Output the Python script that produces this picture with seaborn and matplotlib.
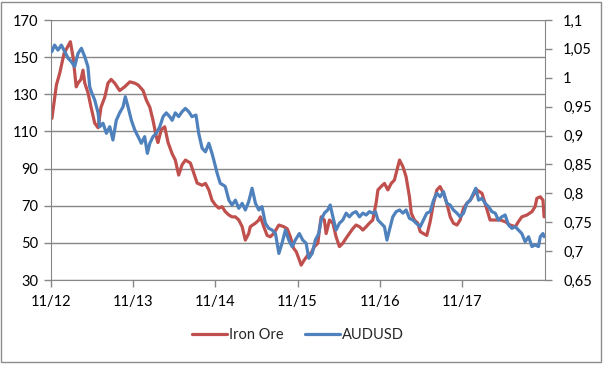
import matplotlib
matplotlib.use("Agg")
import matplotlib.pyplot as plt
import matplotlib.dates as mdates
from matplotlib.patches import Rectangle
from matplotlib.lines import Line2D
import pandas as pd
import seaborn as sns

# ---------------- data ----------------
iron_dates = [
    "2012-11-05", "2012-11-25", "2012-12-10", "2012-12-29", "2013-01-26", "2013-02-07", "2013-02-21",
    "2013-03-01", "2013-03-14", "2013-03-23", "2013-03-31", "2013-04-14", "2013-04-28", "2013-05-14",
    "2013-05-29", "2013-06-11", "2013-06-28", "2013-07-12", "2013-07-26", "2013-08-11", "2013-09-02",
    "2013-09-24", "2013-10-17", "2013-11-08", "2013-11-23", "2013-12-15", "2013-12-29", "2014-01-14",
    "2014-01-28", "2014-02-12", "2014-02-19", "2014-03-06", "2014-03-21", "2014-04-05", "2014-04-23",
    "2014-05-07", "2014-05-22", "2014-06-06", "2014-06-21", "2014-07-13", "2014-07-28", "2014-08-12",
    "2014-09-03", "2014-09-18", "2014-10-03", "2014-10-17", "2014-11-01", "2014-11-16", "2014-12-01",
    "2014-12-15", "2014-12-31", "2015-01-14", "2015-01-29", "2015-02-13", "2015-02-28", "2015-03-14",
    "2015-03-29", "2015-04-05", "2015-04-28", "2015-05-13", "2015-05-20", "2015-06-04", "2015-06-19",
    "2015-07-03", "2015-07-18", "2015-08-10", "2015-09-01", "2015-09-16", "2015-09-30", "2015-10-15",
    "2015-10-26", "2015-11-09", "2015-11-17", "2015-12-01", "2015-12-17", "2015-12-31", "2016-01-15",
    "2016-01-30", "2016-02-06", "2016-02-14", "2016-02-28", "2016-03-07", "2016-03-22", "2016-04-06",
    "2016-04-20", "2016-05-05", "2016-05-20", "2016-06-04", "2016-06-18", "2016-07-03", "2016-07-18",
    "2016-08-02", "2016-08-17", "2016-09-01", "2016-09-15", "2016-09-30", "2016-10-15", "2016-10-23",
    "2016-11-06", "2016-11-21", "2016-12-06", "2016-12-21", "2017-01-04", "2017-01-19", "2017-01-27",
    "2017-02-11", "2017-02-25", "2017-03-12", "2017-03-20", "2017-04-03", "2017-04-18", "2017-04-29",
    "2017-05-13", "2017-05-28", "2017-06-12", "2017-06-27", "2017-07-12", "2017-07-26", "2017-08-10",
    "2017-08-25", "2017-09-09", "2017-09-23", "2017-10-09", "2017-10-23", "2017-11-07", "2017-11-22",
    "2017-12-07", "2017-12-21", "2018-01-05", "2018-01-28", "2018-02-11", "2018-03-05", "2018-03-28",
    "2018-04-19", "2018-05-11", "2018-06-02", "2018-06-25", "2018-07-09", "2018-07-24", "2018-08-16",
    "2018-09-07", "2018-09-21", "2018-09-29", "2018-10-14", "2018-10-26", "2018-10-31",
]
iron_values = [
    117, 135, 141.5, 152, 158.3, 150, 134,
    136, 138, 143, 136, 131, 123, 114.5,
    112, 123, 128.5, 136, 138, 136, 132,
    134, 136.7, 136, 135, 132, 127, 123,
    116, 107, 104, 111, 112.5, 104, 98,
    94.6, 86.5, 92, 94.6, 93, 87.6, 82.2,
    81, 82, 78.5, 73, 70.4, 68.7, 69.5,
    66.8, 65, 64, 64, 62.3, 58.7, 51.5,
    55, 58.7, 60.6, 62.3, 64, 58.7, 54,
    53.3, 55, 59.6, 58.7, 57.6, 53.3, 47,
    45.3, 40.8, 38, 40.8, 43.5, 44.5, 48,
    49.8, 56.9, 64, 62.3, 55, 62.3, 60.6,
    53.3, 48, 49.8, 52.6, 55, 57.6, 59.6,
    58.7, 56.9, 58.7, 60.6, 62.3, 71.5, 78.5,
    80.3, 82, 78.5, 82, 83.8, 91, 94.6,
    91, 85.6, 74.8, 66, 62.3, 60.6, 56,
    55, 54, 61.4, 71.5, 78.5, 80.3, 76.7,
    71.3, 64, 60.6, 59.6, 62.3, 68.6, 71.3,
    73, 75.8, 78.5, 76.7, 71.3, 62.3, 62.3,
    62.3, 61.4, 59.6, 58.7, 61.4, 64, 65,
    66.8, 69.5, 74, 74.8, 73, 64,
]

aud_dates = [
    "2012-11-05", "2012-11-17", "2012-12-02", "2012-12-17", "2013-01-01", "2013-01-16", "2013-01-30",
    "2013-02-14", "2013-03-01", "2013-03-16", "2013-03-31", "2013-04-14", "2013-04-22", "2013-04-29",
    "2013-05-14", "2013-05-29", "2013-06-05", "2013-06-20", "2013-07-05", "2013-07-20", "2013-08-03",
    "2013-08-18", "2013-09-02", "2013-09-17", "2013-09-27", "2013-10-09", "2013-10-24", "2013-11-08",
    "2013-11-23", "2013-12-07", "2013-12-22", "2014-01-03", "2014-01-14", "2014-01-28", "2014-02-12",
    "2014-02-27", "2014-03-14", "2014-03-28", "2014-04-12", "2014-04-23", "2014-05-07", "2014-05-22",
    "2014-06-06", "2014-06-21", "2014-07-06", "2014-07-20", "2014-08-07", "2014-08-19", "2014-09-03",
    "2014-09-18", "2014-10-03", "2014-10-17", "2014-10-25", "2014-11-09", "2014-11-23", "2014-12-08",
    "2014-12-15", "2014-12-31", "2015-01-14", "2015-01-29", "2015-02-13", "2015-02-28", "2015-03-14",
    "2015-03-29", "2015-04-13", "2015-04-28", "2015-05-13", "2015-05-27", "2015-06-11", "2015-06-26",
    "2015-07-11", "2015-07-26", "2015-08-10", "2015-08-24", "2015-09-08", "2015-09-23", "2015-10-08",
    "2015-10-22", "2015-11-09", "2015-11-24", "2015-12-09", "2015-12-21", "2016-01-05", "2016-01-19",
    "2016-02-03", "2016-02-14", "2016-02-28", "2016-03-14", "2016-03-25", "2016-04-06", "2016-04-20",
    "2016-05-05", "2016-05-20", "2016-06-04", "2016-06-18", "2016-07-03", "2016-07-18", "2016-08-02",
    "2016-08-17", "2016-09-01", "2016-09-15", "2016-09-30", "2016-10-12", "2016-10-23", "2016-11-06",
    "2016-11-21", "2016-12-02", "2016-12-13", "2016-12-28", "2017-01-12", "2017-01-27", "2017-02-11",
    "2017-02-25", "2017-03-12", "2017-03-27", "2017-04-11", "2017-04-29", "2017-05-13", "2017-05-28",
    "2017-06-12", "2017-06-27", "2017-07-12", "2017-07-26", "2017-08-10", "2017-08-25", "2017-09-09",
    "2017-09-23", "2017-10-09", "2017-10-23", "2017-11-07", "2017-11-22", "2017-12-07", "2017-12-21",
    "2018-01-01", "2018-01-13", "2018-01-28", "2018-02-11", "2018-02-26", "2018-03-13", "2018-03-28",
    "2018-04-11", "2018-04-26", "2018-05-11", "2018-05-26", "2018-06-10", "2018-06-25", "2018-07-09",
    "2018-07-24", "2018-08-08", "2018-08-23", "2018-09-07", "2018-09-21", "2018-10-06", "2018-10-14",
    "2018-10-26", "2018-10-31",
]
aud_values = [
    1.0454, 1.0566, 1.0479, 1.0566, 1.0454, 1.0338, 1.0280,
    1.0193, 1.0421, 1.0511, 1.0363, 1.0193, 0.9843, 0.9759,
    0.9618, 0.9393, 0.9152, 0.9213, 0.9039, 0.9152, 0.8923,
    0.9264, 0.9393, 0.9499, 0.9672, 0.9499, 0.9264, 0.9097,
    0.8981, 0.8866, 0.8981, 0.8692, 0.8866, 0.8981, 0.9039,
    0.9152, 0.9328, 0.9393, 0.9328, 0.9264, 0.9393, 0.9328,
    0.9412, 0.9470, 0.9412, 0.9328, 0.9354, 0.9039, 0.8782,
    0.8718, 0.8866, 0.8692, 0.8576, 0.8345, 0.8171, 0.8139,
    0.8117, 0.7882, 0.7798, 0.7882, 0.7741, 0.7827, 0.7712,
    0.7856, 0.8088, 0.7827, 0.7712, 0.7770, 0.7483, 0.7394,
    0.7365, 0.7304, 0.6960, 0.7136, 0.7365, 0.7191, 0.7075,
    0.7191, 0.7304, 0.7191, 0.7136, 0.6876, 0.6960, 0.7191,
    0.7304, 0.7538, 0.7657, 0.7712, 0.7798, 0.7593, 0.7365,
    0.7483, 0.7538, 0.7657, 0.7593, 0.7657, 0.7683, 0.7593,
    0.7657, 0.7625, 0.7683, 0.7657, 0.7683, 0.7538, 0.7483,
    0.7422, 0.7191, 0.7365, 0.7593, 0.7683, 0.7712, 0.7657,
    0.7712, 0.7567, 0.7538, 0.7483, 0.7422, 0.7538, 0.7657,
    0.7683, 0.7882, 0.8001, 0.7940, 0.8030, 0.7827, 0.7798,
    0.7712, 0.7657, 0.7593, 0.7657, 0.7827, 0.7882, 0.8001,
    0.8088, 0.7882, 0.7914, 0.7827, 0.7770, 0.7683, 0.7657,
    0.7538, 0.7593, 0.7625, 0.7451, 0.7394, 0.7422, 0.7365,
    0.7304, 0.7162, 0.7249, 0.7079, 0.7107, 0.7079, 0.7249,
    0.7304, 0.7249,
]

series_names = ["Iron Ore", "AUDUSD"]
x_tick_labels = ["11/12", "11/13", "11/14", "11/15", "11/16", "11/17"]
x_tick_dates = ["2012-11-01", "2013-11-01", "2014-11-01", "2015-11-01", "2016-11-01", "2017-11-01"]
left_ticks = [30, 50, 70, 90, 110, 130, 150, 170]
right_ticks = [0.65, 0.70, 0.75, 0.80, 0.85, 0.90, 0.95, 1.00, 1.05, 1.10]
right_labels = ["0,65", "0,7", "0,75", "0,8", "0,85", "0,9", "0,95", "1", "1,05", "1,1"]

iron_df = pd.DataFrame({"date": pd.to_datetime(iron_dates), "value": iron_values})
aud_df = pd.DataFrame({"date": pd.to_datetime(aud_dates), "value": aud_values})

# ---------------- style ----------------
sns.set_style("white")
plt.rcParams["font.family"] = ["Lato", "DejaVu Sans"]

RED = "#C0504D"
BLUE = "#4F81BD"
GRID = "#878787"
TXT = "#000000"

fig = plt.figure(figsize=(6.05, 3.67), dpi=100)
ax = fig.add_axes([51 / 605, 1 - 280 / 367, (545 - 51) / 605, 260 / 367])
ax2 = ax.twinx()

sns.lineplot(data=iron_df, x="date", y="value", ax=ax, color=RED, linewidth=2.3,
             label=series_names[0], legend=False)
sns.lineplot(data=aud_df, x="date", y="value", ax=ax2, color=BLUE, linewidth=2.3,
             label=series_names[1], legend=False)

ax.set_xlim(pd.Timestamp("2012-11-01"), pd.Timestamp("2018-11-04"))
ax.set_ylim(30, 170)
ax2.set_ylim(0.65, 1.10)

ax.set_yticks(left_ticks)
ax.set_yticklabels([str(v) for v in left_ticks], fontsize=10.5, color=TXT)
ax2.set_yticks(right_ticks)
ax2.set_yticklabels(right_labels, fontsize=10.5, color=TXT)
ax.set_xticks(pd.to_datetime(x_tick_dates))
ax.set_xticklabels(x_tick_labels, fontsize=10.5, color=TXT)

ax.set_xlabel("")
ax.set_ylabel("")
ax2.set_xlabel("")
ax2.set_ylabel("")

ax.grid(axis="y", color=GRID, linewidth=1.0)
ax.set_axisbelow(True)
ax.grid(axis="x", visible=False)
ax2.grid(False)

for a in (ax, ax2):
    for s in a.spines.values():
        s.set_visible(False)
ax.spines["left"].set_visible(True)
ax.spines["left"].set_color(GRID)
ax.spines["bottom"].set_visible(True)
ax.spines["bottom"].set_color(GRID)
ax2.spines["right"].set_visible(True)
ax2.spines["right"].set_color(GRID)

ax.tick_params(axis="y", length=5, color=GRID, width=1, pad=4, left=True)
ax.tick_params(axis="x", length=5, color=GRID, width=1, pad=6, bottom=True, direction="out")
ax2.tick_params(axis="y", length=5, color=GRID, width=1, pad=8, right=True)

# legend
handles = [Line2D([0], [0], color=RED, lw=2.3), Line2D([0], [0], color=BLUE, lw=2.3)]
fig.legend(handles, series_names, loc="center", bbox_to_anchor=(298 / 605, 1 - 335 / 367),
           ncol=2, frameon=False, fontsize=10.5, handlelength=2.4, columnspacing=1.4,
           handletextpad=0.2)

# chart area border
fig.patches.append(Rectangle((1 / 605, 1 - 362 / 367), 600 / 605, 360 / 367,
                             transform=fig.transFigure, fill=False, edgecolor="#8c8c8c",
                             linewidth=1.0))

fig.savefig("out.png", dpi=100)
